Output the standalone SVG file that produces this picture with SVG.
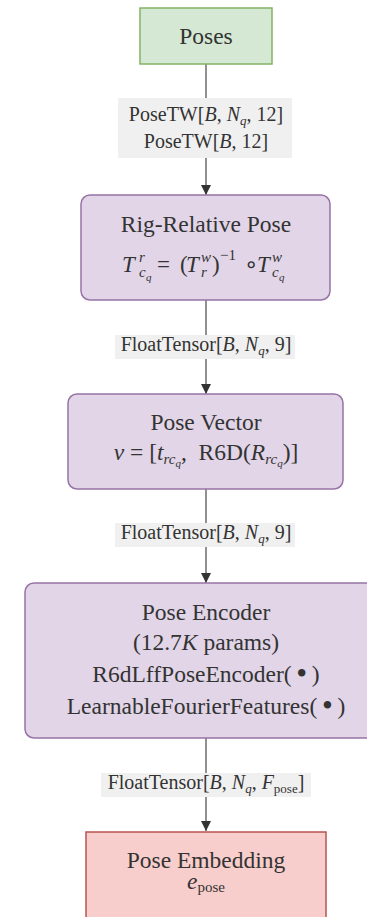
<svg xmlns="http://www.w3.org/2000/svg" width="367" height="917" viewBox="0 0 367 917">
  <defs>
    <marker id="arrow" viewBox="0 0 10 10" refX="10" refY="5" markerWidth="10" markerHeight="10" markerUnits="userSpaceOnUse" orient="auto">
      <path d="M0,0 L10,5 L0,10 Z" fill="#333333"/>
    </marker>
    <style>
      text { fill: #333333; }
      .t { font-size: 23.5px; text-anchor: middle; }
      .l { font-size: 20px; text-anchor: middle; }
      .i { font-style: italic; }
      .m { font-size: 23px; }
      .s { font-size: 15px; }
      .ss { font-size: 11px; }
      .green { fill: #d5e8d4; stroke: #82b366; stroke-width: 1.5; }
      .purple { fill: #e1d5e7; stroke: #9673a6; stroke-width: 1.5; }
      .red { fill: #f8cecc; stroke: #b85450; stroke-width: 1.5; }
      .edge { stroke: #555555; stroke-width: 1.3; fill: none; }
      .lblbg { fill: #f0f0f0; }
    </style>
  </defs>

  <g id="connectors">
    <line class="edge" x1="206" y1="64" x2="206" y2="195" marker-end="url(#arrow)"/>
    <line class="edge" x1="206" y1="300" x2="206" y2="394" marker-end="url(#arrow)"/>
    <line class="edge" x1="206" y1="489" x2="206" y2="583" marker-end="url(#arrow)"/>
    <line class="edge" x1="206" y1="738" x2="206" y2="831" marker-end="url(#arrow)"/>

    <g id="label-poses">
      <rect class="lblbg" x="118" y="98" width="174" height="60"/>
      <text class="l" font-family="Liberation Serif" x="206" y="121">PoseTW[<tspan class="i">B</tspan>, <tspan class="i">N</tspan><tspan class="i" font-size="13" dy="4">q</tspan><tspan dy="-4">, 12]</tspan></text>
      <text class="l" font-family="Liberation Serif" x="206" y="148">PoseTW[<tspan class="i">B</tspan>, 12]</text>
    </g>
    <g id="label-rel">
      <rect class="lblbg" x="115" y="335" width="180" height="24"/>
      <text class="l" font-family="Liberation Serif" x="206" y="351">FloatTensor[<tspan class="i">B</tspan>, <tspan class="i">N</tspan><tspan class="i" font-size="13" dy="4">q</tspan><tspan dy="-4">, 9]</tspan></text>
    </g>
    <g id="label-vec">
      <rect class="lblbg" x="115" y="523" width="180" height="24"/>
      <text class="l" font-family="Liberation Serif" x="206" y="539">FloatTensor[<tspan class="i">B</tspan>, <tspan class="i">N</tspan><tspan class="i" font-size="13" dy="4">q</tspan><tspan dy="-4">, 9]</tspan></text>
    </g>
    <g id="label-enc">
      <rect class="lblbg" x="101" y="773" width="210" height="24"/>
      <text class="l" font-family="Liberation Serif" x="206" y="789">FloatTensor[<tspan class="i">B</tspan>, <tspan class="i">N</tspan><tspan class="i" font-size="13" dy="4">q</tspan><tspan dy="-4">, </tspan><tspan class="i">F</tspan><tspan font-size="13" dy="4">pose</tspan><tspan dy="-4">]</tspan></text>
    </g>
  </g>

  <g id="poses">
    <rect class="green" x="140" y="8" width="132" height="56"/>
    <text class="t" font-family="Liberation Serif" x="206" y="44">Poses</text>
  </g>

  <g id="rig-relative-pose">
    <rect class="purple" x="81" y="195" width="249" height="105" rx="9"/>
    <text class="t" font-family="Liberation Serif" x="206" y="232">Rig-Relative Pose</text>
    <text class="m i" font-family="Liberation Serif" x="122" y="272">T</text>
    <text class="s i" font-family="Liberation Serif" x="139" y="262">r</text>
    <text class="s i" font-family="Liberation Serif" x="139" y="277">c</text>
    <text class="ss i" font-family="Liberation Serif" x="146" y="281">q</text>
    <text class="m" font-family="Liberation Serif" x="157" y="272">=</text>
    <text class="m" font-family="Liberation Serif" x="180" y="272">(</text>
    <text class="m i" font-family="Liberation Serif" x="186" y="272">T</text>
    <text class="s i" font-family="Liberation Serif" x="201" y="262">w</text>
    <text class="s i" font-family="Liberation Serif" x="201" y="277">r</text>
    <text class="m" font-family="Liberation Serif" x="212" y="272">)</text>
    <text class="s" font-family="Liberation Serif" x="220" y="260">&#8722;1</text>
    <text class="m" font-family="DejaVu Sans" x="244" y="272" font-size="18">&#8728;</text>
    <text class="m i" font-family="Liberation Serif" x="257" y="272">T</text>
    <text class="s i" font-family="Liberation Serif" x="272" y="262">w</text>
    <text class="s i" font-family="Liberation Serif" x="272" y="277">c</text>
    <text class="ss i" font-family="Liberation Serif" x="279" y="281">q</text>
  </g>

  <g id="pose-vector">
    <rect class="purple" x="68" y="394" width="275" height="95" rx="9"/>
    <text class="t" font-family="Liberation Serif" x="206" y="430">Pose Vector</text>
    <text class="t" font-family="Liberation Serif" x="206" y="460"><tspan class="i">v</tspan> = [<tspan class="i">t</tspan><tspan class="s i" dy="4">rc</tspan><tspan class="ss i" dy="3">q</tspan><tspan dy="-7">,&#160;&#160;R6D(</tspan><tspan class="i">R</tspan><tspan class="s i" dy="4">rc</tspan><tspan class="ss i" dy="3">q</tspan><tspan dy="-7">)]</tspan></text>
  </g>

  <g id="pose-encoder">
    <rect class="purple" x="25" y="583" width="362" height="155" rx="9"/>
    <text class="t" font-family="Liberation Serif" x="206" y="620">Pose Encoder</text>
    <text class="t" font-family="Liberation Serif" x="206" y="650">(12.7<tspan class="i">K</tspan> params)</text>
    <text class="t" font-family="Liberation Serif" x="206" y="682">R6dLffPoseEncoder(&#8201;<tspan font-size="31" dy="2">&#8226;</tspan><tspan dy="-2">&#8201;)</tspan></text>
    <text class="t" font-family="Liberation Serif" x="206" y="714">LearnableFourierFeatures(&#8201;<tspan font-size="31" dy="2">&#8226;</tspan><tspan dy="-2">&#8201;)</tspan></text>
  </g>

  <g id="pose-embedding">
    <rect class="red" x="86" y="832" width="240" height="100"/>
    <text class="t" font-family="Liberation Serif" x="206" y="868">Pose Embedding</text>
    <text class="t" font-family="Liberation Serif" x="206" y="889"><tspan class="i">e</tspan><tspan font-size="15" dy="3">pose</tspan></text>
  </g>
</svg>
